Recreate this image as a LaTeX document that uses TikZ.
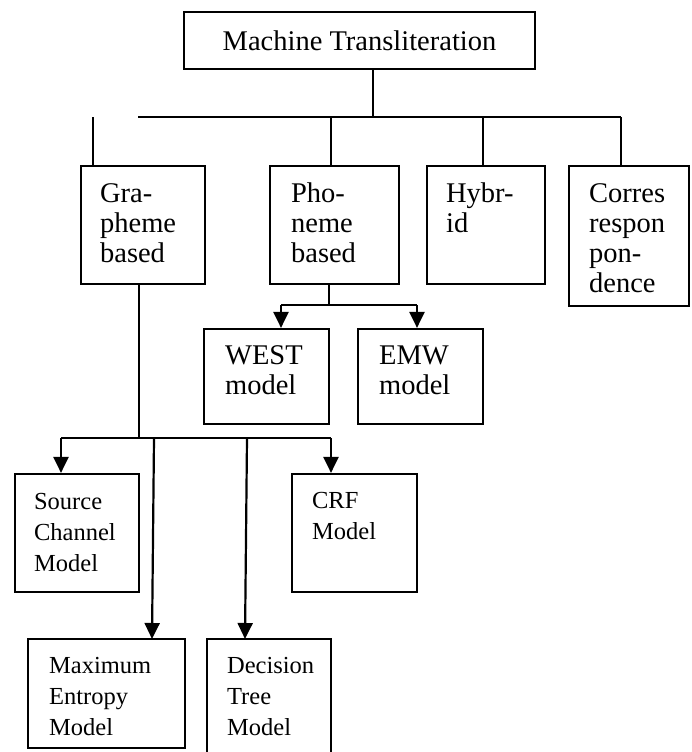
\documentclass[tikz,border=0pt]{standalone}
\usepackage{fontspec}
\setmainfont{Liberation Serif}
\usetikzlibrary{arrows.meta}
\newcommand\bigtxt{\fontsize{28.5}{30}\selectfont}
\newcommand\smtxt{\fontsize{24.5}{31}\selectfont}
\newcommand\btext[1]{\parbox[t]{200pt}{\raggedright #1}}
\tikzset{
  box/.style={draw, line width=2.2pt, inner sep=0pt, rectangle},
  lbl/.style={anchor=base west, inner sep=0pt},
  ln/.style={line width=2.2pt},
  arr/.style={line width=2.2pt, -{Triangle[length=16pt,width=15pt]}}
}
\begin{document}
\begin{tikzpicture}[x=1pt,y=-1pt]
\clip (0,0) rectangle (691,752);
\fill[white] (0,0) rectangle (691,752);
% boxes
\node[box, minimum width=351pt, minimum height=57pt, font=\bigtxt] (MT) at (359.5,40.5) {Machine Transliteration};
\node[box, minimum width=124pt, minimum height=118pt] (G) at (143,225) {};
\node[box, minimum width=129pt, minimum height=118pt] (P) at (334.5,225) {};
\node[box, minimum width=118pt, minimum height=118pt] (H) at (486,225) {};
\node[box, minimum width=120pt, minimum height=140pt] (C) at (629,236) {};
\node[box, minimum width=125pt, minimum height=95pt] (WEST) at (266.5,376.5) {};
\node[box, minimum width=125pt, minimum height=95pt] (EMW) at (420.5,376.5) {};
\node[box, minimum width=124pt, minimum height=118pt] (SC) at (77,533) {};
\node[box, minimum width=125pt, minimum height=118pt] (CRF) at (354.5,533) {};
\node[box, minimum width=157pt, minimum height=109pt] (ME) at (106.5,693.5) {};
\node[box, minimum width=124pt, minimum height=131pt] (DT) at (269,704.5) {};
% labels
\node[lbl, font=\bigtxt] (Gt) at ([shift={(20,38)}]G.north west) {\btext{Gra-\\pheme\\based}};
\node[lbl, font=\bigtxt] (Pt) at ([shift={(22,38)}]P.north west) {\btext{Pho-\\neme\\based}};
\node[lbl, font=\bigtxt] (Ht) at ([shift={(20,38)}]H.north west) {\btext{Hybr-\\id}};
\node[lbl, font=\bigtxt] (Ct) at ([shift={(21,38)}]C.north west) {\btext{Corres\\respon\\pon-\\dence}};
\node[lbl, font=\bigtxt] (WESTt) at ([shift={(22,37)}]WEST.north west) {\btext{WEST\\model}};
\node[lbl, font=\bigtxt] (EMWt) at ([shift={(22,37)}]EMW.north west) {\btext{EMW\\model}};
\node[lbl, font=\smtxt] (SCt) at ([shift={(20,37)}]SC.north west) {\btext{Source\\Channel\\Model}};
\node[lbl, font=\smtxt] (CRFt) at ([shift={(21,36)}]CRF.north west) {\btext{CRF\\Model}};
\node[lbl, font=\smtxt] (MEt) at ([shift={(22,36)}]ME.north west) {\btext{Maximum\\Entropy\\Model}};
\node[lbl, font=\smtxt] (DTt) at ([shift={(21,36)}]DT.north west) {\btext{Decision\\Tree\\Model}};
% top level connectors
\coordinate (j0) at (373,117);
\coordinate (busL) at (138,117);
\coordinate (busR) at (621,117);
\coordinate (jG) at (93,117);
\coordinate (jP) at (331,117);
\coordinate (jH) at (483,117);
\draw[ln] (MT.south -| j0) -- (j0);
\draw[ln] (busL) -- (busR);
\draw[ln] (jG) -- (jG |- G.north);
\draw[ln] (jP) -- (jP |- P.north);
\draw[ln] (jH) -- (jH |- H.north);
\draw[ln] (busR) -- (busR |- C.north);
% phoneme branch
\coordinate (pj) at (329,305);
\coordinate (pa1) at (281,305);
\coordinate (pa2) at (417,305);
\draw[ln] (P.south -| pj) -- (pj);
\draw[ln] (pa1) -- (pa2);
\draw[arr] (pa1) -- (pa1 |- WEST.north);
\draw[arr] (pa2) -- (pa2 |- EMW.north);
% grapheme branch
\coordinate (gj) at (139,438);
\coordinate (ga1) at (61,438);
\coordinate (ga2) at (331,438);
\coordinate (gm) at (154,438);
\coordinate (gd) at (247,438);
\coordinate (meT) at (152,639);
\coordinate (dtT) at (245,639);
\draw[ln] (G.south -| gj) -- (gj);
\draw[ln] (ga1) -- (ga2);
\draw[arr] (ga1) -- (ga1 |- SC.north);
\draw[arr] (ga2) -- (ga2 |- CRF.north);
\draw[arr] (gm) -- (meT);
\draw[arr] (gd) -- (dtT);
\end{tikzpicture}
\end{document}
